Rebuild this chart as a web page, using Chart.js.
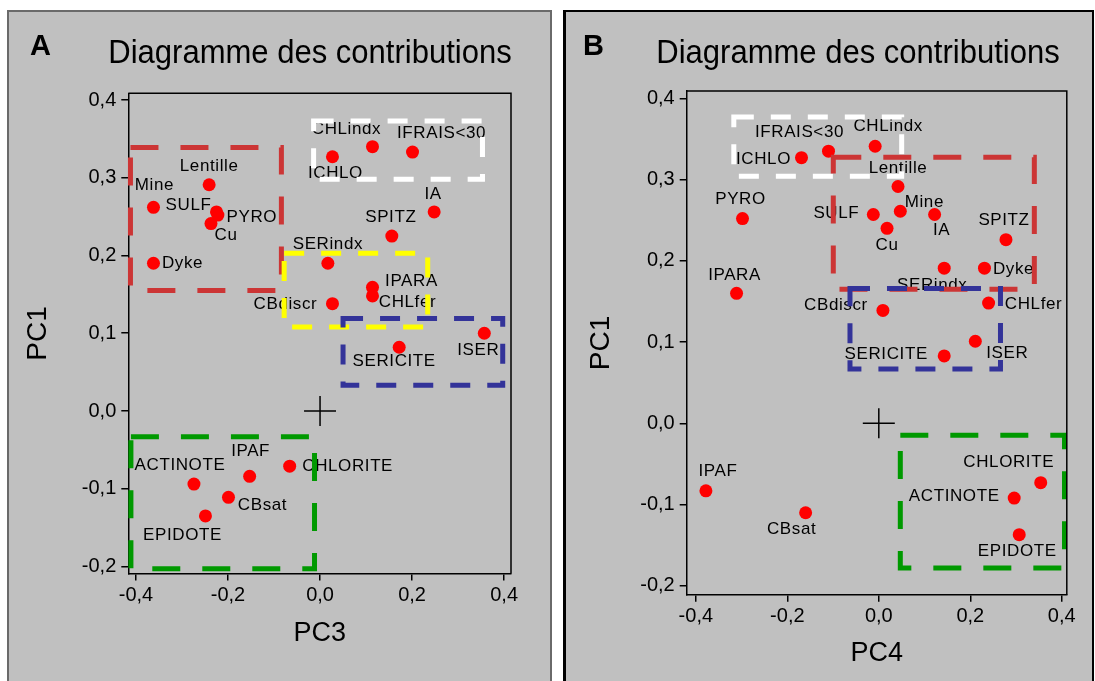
<!DOCTYPE html>
<html><head><meta charset="utf-8">
<script src="https://cdn.jsdelivr.net/npm/chart.js@4.4.1/dist/chart.umd.min.js"></script>
<style>
html,body{margin:0;padding:0;background:#fff;width:1095px;height:681px;overflow:hidden;}
.panel{position:absolute;background:#c0c0c0;box-sizing:border-box;}
#pA{left:7px;top:10px;width:545px;height:700px;border:2px solid #6a6a6a;}
#pB{left:563px;top:10px;width:531px;height:700px;border:2px solid #000;border-left-width:3px;}
canvas{position:absolute;top:0;}
#cA{left:0}
#cB{left:556px}
</style></head>
<body>
<div class="panel" id="pA"></div>
<div class="panel" id="pB"></div>
<canvas id="cA" width="552" height="681"></canvas>
<canvas id="cB" width="539" height="681"></canvas>
<script>
// ---------- data ----------
const variables = ["CHLindx","IFRAIS<30","ICHLO","Lentille","Mine","SULF","PYRO","Cu","IA","SPITZ","SERindx","Dyke","IPARA","CHLfer","CBdiscr","ISER","SERICITE","IPAF","CHLORITE","ACTINOTE","CBsat","EPIDOTE"];
const pc3  = [0.114,0.201,0.027,-0.241,-0.362,-0.225,-0.222,-0.237,0.248,0.156,0.017,-0.362,0.114,0.114,0.027,0.357,0.172,-0.153,-0.066,-0.274,-0.199,-0.249];
const pc1A = [0.340,0.333,0.327,0.291,0.262,0.256,0.252,0.241,0.256,0.225,0.190,0.190,0.159,0.148,0.138,0.100,0.082,-0.084,-0.071,-0.094,-0.111,-0.135];
const pc4  = [-0.008,-0.110,-0.169,0.042,0.047,-0.012,-0.298,0.018,0.122,0.278,0.143,0.231,-0.311,0.240,0.009,0.211,0.143,-0.378,0.354,0.296,-0.160,0.307];
const pc1B = [0.341,0.335,0.327,0.2915,0.261,0.257,0.252,0.240,0.257,0.226,0.191,0.191,0.160,0.148,0.139,0.101,0.083,-0.083,-0.073,-0.092,-0.110,-0.137];
const xTicks = [-0.4,-0.2,0,0.2,0.4];
const yTicks = [-0.2,-0.1,0,0.1,0.2,0.3,0.4];
// group boxes [xmin, xmax, ymin, ymax]
const groupsA = [[-0.412,-0.084,0.155,0.339],[-0.014,0.353,0.298,0.373],[-0.078,0.234,0.108,0.203],[0.050,0.397,0.033,0.119],[-0.411,-0.012,-0.203,-0.033]];
const groupsB = [[-0.317,0.050,0.304,0.377],[-0.0995,0.340,0.165,0.3276],[-0.063,0.266,0.067,0.166],[0.047,0.406,-0.178,-0.0148]];

// ---------- styles / layout ----------
const RED={c:'#cc3535',d:[28,22]}, WHITE={c:'#ffffff',d:[20,17]}, YELLOW={c:'#ffff00',d:[20,17]}, BLUE={c:'#333399',d:[20,17]}, GREEN={c:'#009900',d:[28,22]};
const groupStylesA=[RED,WHITE,YELLOW,BLUE,GREEN];
const groupStylesB=[WHITE,RED,BLUE,GREEN];
const labelOffA=[[-26,-17],[29,-19],[3,17],[0,-18],[1,-22],[-28,-7],[34,2],[15,12],[-1,-18],[-1,-19],[0,-19],[29,0],[39,-6],[35,6],[-47,1],[-6,17],[-5,14],[1,-25],[58,0],[-14,-19],[34,8],[-23,19]];
const labelOffB=[[13,-20],[-29,-19],[-38,2],[0,-18],[24,-9],[-37,-1],[-2,-19],[0,17],[7,16],[-2,-19],[-12,17],[29,1],[-2,-18],[45,1],[-47,-5],[32,12],[-58,-2],[12,-19],[-32,-20],[-60,-2],[-14,17],[-2,17]];
const FONT='"Liberation Sans", Arial, Helvetica, sans-serif';

function fmt(v){ return (Math.abs(v)<1e-9?0:v).toFixed(1).replace('.',','); }

function makeAnnot(cfg){
  return {
    id:'annot',
    afterDatasetsDraw(chart){
      const ctx=chart.ctx, xs=chart.scales.x, ys=chart.scales.y;
      ctx.save();
      ctx.font='17px '+FONT; ctx.fillStyle='#000'; ctx.textAlign='center'; ctx.textBaseline='middle';
      if ('letterSpacing' in ctx) ctx.letterSpacing='0.6px';
      cfg.names.forEach((n,i)=>{
        const px=xs.getPixelForValue(cfg.xv[i]), py=ys.getPixelForValue(cfg.yv[i]);
        ctx.fillText(n, px+cfg.off[i][0], py+cfg.off[i][1]);
      });
      if ('letterSpacing' in ctx) ctx.letterSpacing='0px';
      cfg.groups.forEach((g,i)=>{
        const st=cfg.styles[i];
        const x1=xs.getPixelForValue(g[0]), x2=xs.getPixelForValue(g[1]);
        const y1=ys.getPixelForValue(g[3]), y2=ys.getPixelForValue(g[2]);
        ctx.strokeStyle=st.c; ctx.lineWidth=5; ctx.setLineDash(st.d); ctx.lineCap='butt';
        ctx.strokeRect(x1,y1,x2-x1,y2-y1);
      });
      ctx.setLineDash([]);
      const cx=xs.getPixelForValue(0), cy=ys.getPixelForValue(0);
      ctx.strokeStyle='#000'; ctx.lineWidth=1.5;
      ctx.beginPath(); ctx.moveTo(cx-16,cy); ctx.lineTo(cx+16,cy); ctx.moveTo(cx,cy-15); ctx.lineTo(cx,cy+15); ctx.stroke();
      ctx.restore();
    },
    afterDraw(chart){
      const ctx=chart.ctx, a=chart.chartArea;
      ctx.save();
      ctx.strokeStyle='#000'; ctx.lineWidth=1.5;
      ctx.beginPath(); ctx.moveTo(a.left,a.top); ctx.lineTo(a.right,a.top); ctx.lineTo(a.right,a.bottom); ctx.stroke();
      ctx.fillStyle='#000'; ctx.textBaseline='alphabetic';
      ctx.font='bold 29px '+FONT; ctx.textAlign='left';
      ctx.fillText(cfg.letter, cfg.letterX, 55);
      ctx.font='33px '+FONT; ctx.textAlign='center';
      ctx.translate(cfg.titleX,63); ctx.scale(0.94,1);
      ctx.fillText('Diagramme des contributions',0,0);
      ctx.restore();
    }
  };
}

function makeChart(id, xv, yv, off, groups, styles, xTitle, o){
  return new Chart(document.getElementById(id), {
    type:'scatter',
    data:{datasets:[{data:xv.map((x,i)=>({x:x,y:yv[i]})), backgroundColor:'#ff0000', borderWidth:0, pointRadius:6.5, pointHoverRadius:6.5}]},
    options:{
      responsive:false, animation:false, devicePixelRatio:1,
      layout:{padding:{left:0,top:o.top,right:o.right,bottom:0}},
      plugins:{legend:{display:false}, tooltip:{enabled:false}},
      scales:{
        x:{type:'linear', min:o.xmin, max:o.xmax,
           afterBuildTicks:s=>{s.ticks=xTicks.map(v=>({value:v}));},
           afterFit:s=>{s.height=o.xh;},
           grid:{drawOnChartArea:false, drawTicks:true, tickLength:7, color:'#000', tickWidth:1.5, lineWidth:1.5},
           border:{display:true, color:'#000', width:1.5},
           ticks:{callback:v=>fmt(v), color:'#000', font:{family:FONT,size:20}, padding:3, maxRotation:0, autoSkip:false},
           title:{display:true, text:xTitle, color:'#000', font:{family:FONT,size:27}, padding:{top:0,bottom:o.xtp}}
        },
        y:{type:'linear', min:o.ymin, max:o.ymax,
           afterBuildTicks:s=>{s.ticks=yTicks.map(v=>({value:v}));},
           afterFit:s=>{s.width=o.yw;},
           grid:{drawOnChartArea:false, drawTicks:true, tickLength:7, color:'#000', tickWidth:1.5, lineWidth:1.5},
           border:{display:true, color:'#000', width:1.5},
           ticks:{callback:v=>fmt(v), color:'#000', font:{family:FONT,size:20}, padding:5, autoSkip:false},
           title:{display:true, text:'PC1', color:'#000', font:{family:FONT,size:28}, padding:{top:o.ytp,bottom:0}}
        }
      }
    },
    plugins:[makeAnnot({names:variables, xv:xv, yv:yv, off:off, groups:groups, styles:styles, letter:o.letter, letterX:o.letterX, titleX:o.titleX})]
  });
}

makeChart('cA', pc3, pc1A, labelOffA, groupsA, groupStylesA, 'PC3',
  {top:93.3, right:41, xh:107.5, yw:128.3, xmin:-0.4167, xmax:0.415, ymin:-0.209, ymax:0.4086, xtp:30.8, ytp:21.5, letter:'A', letterX:30, titleX:310});
makeChart('cB', pc4, pc1B, labelOffB, groupsB, groupStylesB, 'PC4',
  {top:91, right:28.2, xh:86.2, yw:130.7, xmin:-0.420, xmax:0.411, ymin:-0.211, ymax:0.409, xtp:10.8, ytp:28.2, letter:'B', letterX:27, titleX:302});
</script>
</body></html>
